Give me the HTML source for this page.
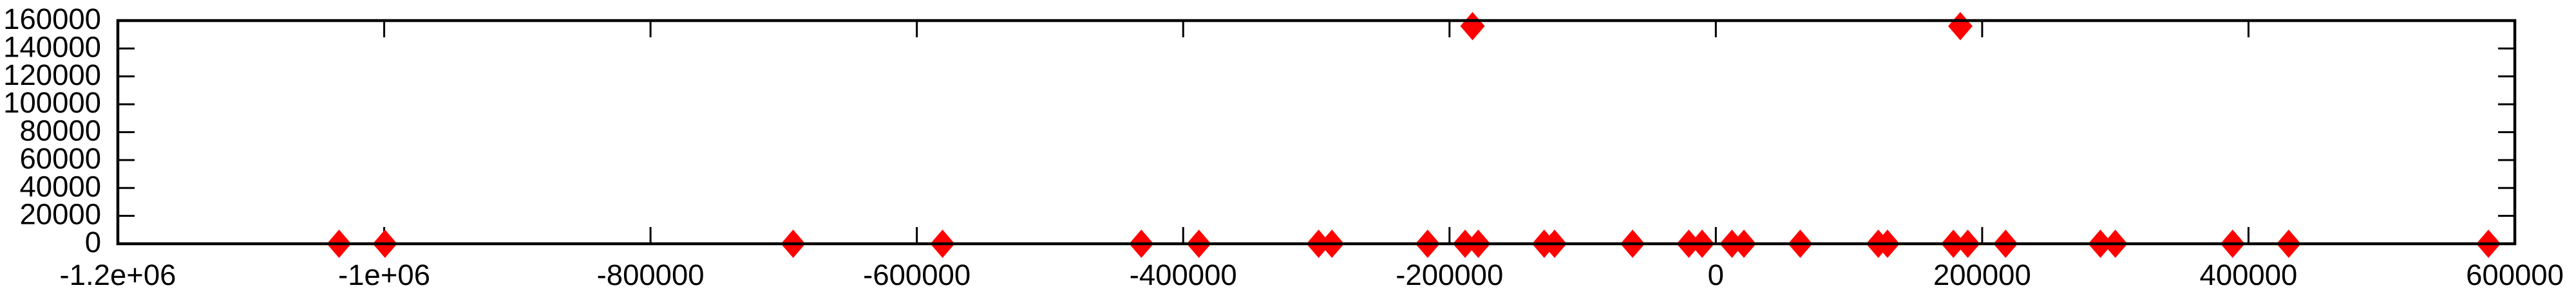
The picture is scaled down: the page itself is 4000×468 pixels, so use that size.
<!DOCTYPE html>
<html><head><meta charset="utf-8"><style>
html,body{margin:0;padding:0;background:#fff;}
svg{display:block;}
text{font-family:"Liberation Sans",sans-serif;font-size:45.5px;fill:#000;}
</style></head>
<body>
<svg id="chart" width="4000" height="468" viewBox="0 0 4000 468">
<g id="axes"></g>
<g id="points"></g>
<rect x="183" y="32" width="3722" height="347" fill="none" stroke="#000" stroke-width="4.5"/>
</svg>
<script>
const xValues = [-1033900,-999400,-692900,-580700,-431400,-388200,-298300,-288300,-216400,-188300,-178400,-128900,-121100,-62500,-20300,-10300,12100,21100,63400,122000,128900,178400,189200,217600,288800,300000,388100,430200,580200,-182700,183600];
const yValues = [0,0,0,0,0,0,0,0,0,0,0,0,0,0,0,0,0,0,0,0,0,0,0,0,0,0,0,0,0,156000,156000];
const xTicks = [-1200000,-1000000,-800000,-600000,-400000,-200000,0,200000,400000,600000];
const xTickLabels = ["-1.2e+06","-1e+06","-800000","-600000","-400000","-200000","0","200000","400000","600000"];
const yTicks = [0,20000,40000,60000,80000,100000,120000,140000,160000];
const yTickLabels = ["0","20000","40000","60000","80000","100000","120000","140000","160000"];

const L=183,R=3905,T=32,B=379;
const xMin=-1200000,xMax=600000,yMin=0,yMax=160000;
function sx(v){return L+(v-xMin)/(xMax-xMin)*(R-L);}
function sy(v){return B-(v-yMin)/(yMax-yMin)*(B-T);}
const NS="http://www.w3.org/2000/svg";
const axes=document.getElementById('axes');
const pts=document.getElementById('points');
function mk(tag,attrs){const e=document.createElementNS(NS,tag);for(const k in attrs)e.setAttribute(k,attrs[k]);return e;}

xTicks.forEach((v,i)=>{
  const x=sx(v);
  const t1=mk('line',{x1:x,y1:B,x2:x,y2:B-26,stroke:'#000','stroke-width':3});
  
  
  axes.appendChild(t1);
  const t2=mk('line',{x1:x,y1:T,x2:x,y2:T+26,stroke:'#000','stroke-width':3});
  
  
  axes.appendChild(t2);
  const lb=mk('text',{x:x,y:443,'text-anchor':'middle'});
  lb.textContent=xTickLabels[i];
  
  
  axes.appendChild(lb);
});
yTicks.forEach((v,i)=>{
  const y=sy(v);
  const t1=mk('line',{x1:L,y1:y,x2:L+26,y2:y,stroke:'#000','stroke-width':3});
  
  
  axes.appendChild(t1);
  const t2=mk('line',{x1:R,y1:y,x2:R-26,y2:y,stroke:'#000','stroke-width':3});
  
  
  axes.appendChild(t2);
  const lb=mk('text',{x:157,y:y+13,'text-anchor':'end'});
  lb.textContent=yTickLabels[i];
  
  
  axes.appendChild(lb);
});
xValues.forEach((v,i)=>{
  const x=sx(v),y=sy(yValues[i]);
  const p=mk('polygon',{points:`${x},${y-22} ${x+19},${y} ${x},${y+22} ${x-19},${y}`,fill:'#ff0000'});
  
  
  pts.appendChild(p);
});
</script>
</body></html>
